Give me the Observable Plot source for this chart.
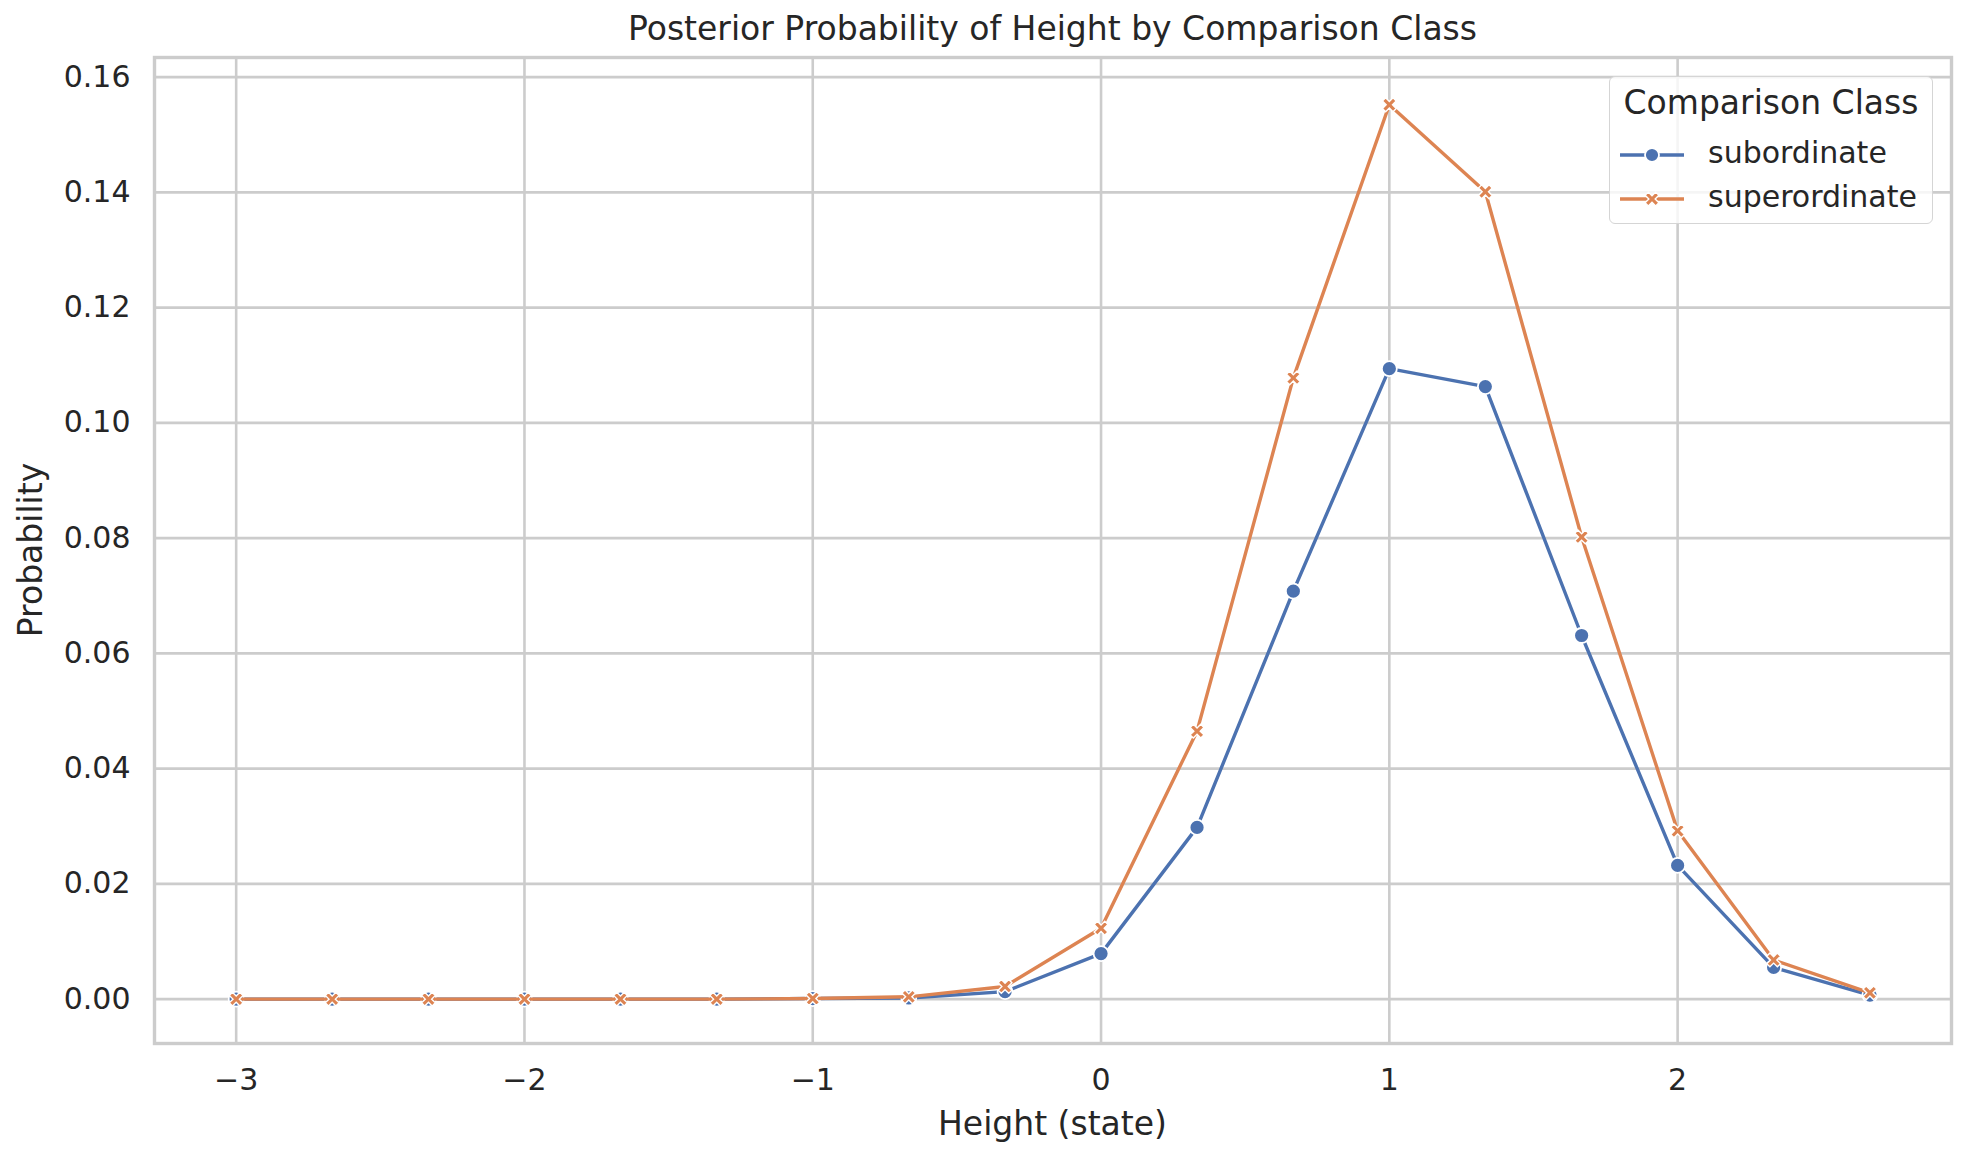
<!DOCTYPE html>
<html><head><meta charset="utf-8">
<script src="https://cdn.jsdelivr.net/npm/d3@7"></script>
<script src="https://cdn.jsdelivr.net/npm/@observablehq/plot@0.6"></script>
<style>
body{margin:0;background:#fff;font-family:"DejaVu Sans",sans-serif;color:#262626;}
#wrap{position:relative;width:1970px;height:1160px;overflow:hidden;background:#fff;}
#title{position:absolute;left:154px;top:0;width:1797px;height:55px;line-height:57px;text-align:center;font-size:33px;white-space:nowrap;}
#chart{position:absolute;left:0;top:55px;}
#xlabel{position:absolute;left:154px;width:1797px;top:1104px;height:40px;line-height:40px;text-align:center;font-size:33px;}
#ylabel{position:absolute;left:30px;top:550px;transform:translate(-50%,-50%) rotate(-90deg);font-size:33px;white-space:nowrap;}
#legend{position:absolute;left:1609px;top:76px;width:322px;height:146px;border:1.5px solid #d5d5d5;border-radius:6px;background:rgba(255,255,255,0.8);}
#legend .lt{position:absolute;left:0;width:100%;top:6px;text-align:center;font-size:33px;line-height:40px;}
#legend .item{position:absolute;left:10px;height:40px;line-height:40px;font-size:30px;white-space:nowrap;}
#legend .item svg{vertical-align:middle;margin-right:24px;}
</style></head>
<body>
<div id="wrap">
  <div id="title">Posterior Probability of Height by Comparison Class</div>
  <div id="chart"></div>
  <div id="xlabel">Height (state)</div>
  <div id="ylabel">Probability</div>
  <div id="legend"></div>
</div>
<script>
const states = [-3, -2.667, -2.333, -2, -1.667, -1.333, -1, -0.667, -0.333, 0, 0.333, 0.667, 1, 1.333, 1.667, 2, 2.333, 2.667];
const subordinate = [0, 0, 0, 0, 0, 0, 0.0001, 0.0002, 0.0013, 0.0079, 0.0298, 0.0708, 0.1094, 0.1063, 0.0631, 0.0232, 0.0055, 0.0007];
const superordinate = [0, 0, 0, 0, 0, 0, 0.0001, 0.0004, 0.0022, 0.0123, 0.0465, 0.1078, 0.1552, 0.1401, 0.0802, 0.0292, 0.0068, 0.0011];
const classes = ["subordinate", "superordinate"];
const colors = ["#4C72B0", "#DD8452"];
const xTicks = [-3, -2, -1, 0, 1, 2];
const yTicks = [0, 0.02, 0.04, 0.06, 0.08, 0.10, 0.12, 0.14, 0.16];

const subData = states.map((s, i) => ({state: s, p: subordinate[i], cls: classes[0]}));
const supData = states.map((s, i) => ({state: s, p: superordinate[i], cls: classes[1]}));

// matplotlib-like filled "X" marker
const xFilled = {
  draw(ctx, size) {
    const r = Math.sqrt(size / Math.PI);
    const L = r, t = r * 0.3;
    const pts = [[t,L],[t,t],[L,t],[L,-t],[t,-t],[t,-L],[-t,-L],[-t,-t],[-L,-t],[-L,t],[-t,t],[-t,L]];
    const c = Math.SQRT1_2;
    pts.forEach(([x, y], i) => {
      const X = (x - y) * c, Y = (x + y) * c;
      if (i) ctx.lineTo(X, Y); else ctx.moveTo(X, Y);
    });
    ctx.closePath();
  }
};

const chart = Plot.plot({
  width: 1970,
  height: 1105,
  marginLeft: 154,
  marginRight: 19,
  marginTop: 2,
  marginBottom: 117,
  style: {fontFamily: "DejaVu Sans, sans-serif", fontSize: "30px", color: "#262626", background: "#fff"},
  x: {domain: [-3.2833, 2.95]},
  y: {domain: [-0.0077, 0.1634]},
  color: {domain: classes, range: colors},
  marks: [
    Plot.gridX(xTicks, {stroke: "#cccccc", strokeOpacity: 1, strokeWidth: 2.6}),
    Plot.gridY(yTicks, {stroke: "#cccccc", strokeOpacity: 1, strokeWidth: 2.6}),
    Plot.frame({stroke: "#cccccc", strokeWidth: 3.4}),
    Plot.axisX(xTicks, {tickSize: 0, tickPadding: 25, label: null, fontSize: 30, tickFormat: d3.format("d")}),
    Plot.axisY(yTicks, {tickSize: 0, tickPadding: 24, label: null, fontSize: 30, tickFormat: d3.format(".2f")}),
    Plot.line(subData, {x: "state", y: "p", stroke: "cls", strokeWidth: 3.4}),
    Plot.dot(subData, {x: "state", y: "p", fill: "cls", stroke: "white", strokeWidth: 1.8, r: 7.5}),
    Plot.line(supData, {x: "state", y: "p", stroke: "cls", strokeWidth: 3.4}),
    Plot.dot(supData, {x: "state", y: "p", fill: "cls", stroke: "white", strokeWidth: 1.4, r: 7.5, symbol: () => xFilled})
  ]
});
document.getElementById("chart").appendChild(chart);

// legend
const leg = document.getElementById("legend");
const lt = document.createElement("div");
lt.className = "lt";
lt.textContent = "Comparison Class";
leg.appendChild(lt);
classes.forEach((c, i) => {
  const item = document.createElement("div");
  item.className = "item";
  item.style.top = (56 + i * 44) + "px";
  const sym = i === 0
    ? `<circle cx="32" cy="10" r="7" fill="${colors[i]}" stroke="white" stroke-width="1.8"/>`
    : `<path d="${d3.symbol(xFilled, 56 * Math.PI)()}" transform="translate(32,10)" fill="${colors[i]}" stroke="white" stroke-width="1.4"/>`;
  item.innerHTML = `<svg width="64" height="20"><line x1="0" x2="64" y1="10" y2="10" stroke="${colors[i]}" stroke-width="3.4"/>${sym}</svg>${c}`;
  leg.appendChild(item);
});
</script>
</body></html>
